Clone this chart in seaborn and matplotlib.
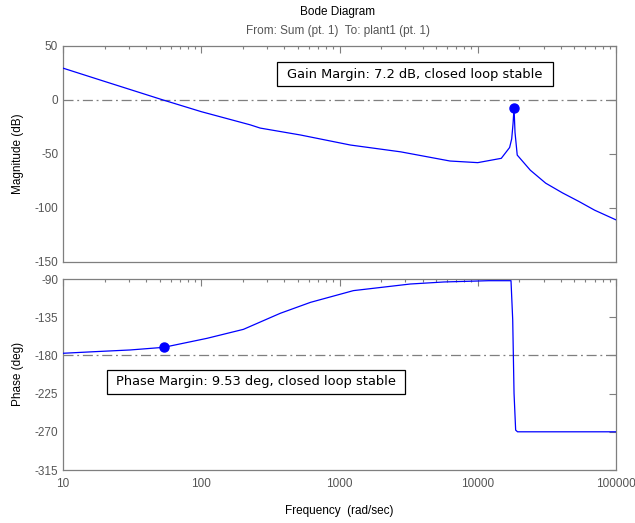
import matplotlib
matplotlib.use("Agg")
import matplotlib.pyplot as plt
import matplotlib.ticker as mticker
from matplotlib.patches import Rectangle
import seaborn as sns
import pandas as pd

# ---- data ----
mag_freq = [10, 20, 53, 100, 226, 267, 522, 1200, 2770, 6300, 10000, 14800, 17000,
            17600, 18000, 18300, 18600, 19300, 24000, 31000, 41000, 54000, 70000, 100000]
mag_db = [29.5, 17.2, 0.0, -10.8, -23.0, -26.0, -32.4, -41.7, -48.0, -56.5, -58.0, -54.0, -44.0,
          -36.0, -22.0, -7.2, -30.0, -51.0, -65.0, -77.0, -86.0, -94.0, -102.0, -111.0]

ph_freq = [10, 17, 30.6, 53.5, 110, 202, 316, 373, 617, 1260, 3250, 5700, 12000, 17400,
           17900, 18300, 18800, 19400, 30000, 100000]
ph_deg = [-177.5, -175.6, -173.6, -170.5, -159.9, -149.3, -135.5, -130.4, -117.5, -103.7,
          -95.9, -93.5, -92.0, -92.0, -138.0, -224.6, -268.0, -270.0, -270.0, -270.0]

gm_freq, gm_db = 18300, -7.2
pm_freq, pm_deg = 53.5, -170.5

mag_ticks = [-150, -100, -50, 0, 50]
ph_ticks = [-315, -270, -225, -180, -135, -90]
freq_ticks = [10, 100, 1000, 10000, 100000]
freq_labels = ["10", "100", "1000", "10000", "100000"]

title = "Bode Diagram"
subtitle = "From: Sum (pt. 1)  To: plant1 (pt. 1)"
gm_text = "Gain Margin: 7.2 dB, closed loop stable"
pm_text = "Phase Margin: 9.53 deg, closed loop stable"

# ---- style ----
sns.set_style("white")
plt.rcParams['font.family'] = ['Liberation Sans', 'DejaVu Sans']
plt.rcParams['axes.unicode_minus'] = False
FS = 8.5
GRAY = "#7f7f7f"
LBL = "#555555"
BLUE = "#0000ff"

fig = plt.figure(figsize=(6.35, 5.23), dpi=100)
fig.patch.set_facecolor("white")
ax1 = fig.add_axes([63/635, 1-262/523, 553/635, 216/523])
ax2 = fig.add_axes([63/635, 1-470/523, 553/635, 191/523])

mag_df = pd.DataFrame({"f": mag_freq, "m": mag_db})
ph_df = pd.DataFrame({"f": ph_freq, "p": ph_deg})

for ax, ref in ((ax1, 0), (ax2, -180)):
    ax.axhline(ref, color=GRAY, lw=0.9, dashes=(8, 3, 1.5, 3), zorder=1)

sns.lineplot(data=mag_df, x="f", y="m", ax=ax1, color=BLUE, lw=0.9, sort=False, zorder=3)
sns.lineplot(data=ph_df, x="f", y="p", ax=ax2, color=BLUE, lw=0.9, sort=False, zorder=3)
ax1.plot([gm_freq], [gm_db], 'o', color=BLUE, ms=6.5, zorder=4)
ax2.plot([pm_freq], [pm_deg], 'o', color=BLUE, ms=6.5, zorder=4)

for ax in (ax1, ax2):
    ax.set_xscale("log")
    ax.set_xlim(10, 100000)
    ax.set_xlabel("")
    ax.set_ylabel("")
    for s in ax.spines.values():
        s.set_color(GRAY)
        s.set_linewidth(0.9)
        s.set_visible(True)
    ax.tick_params(which="both", direction="in", top=True, right=True, colors=GRAY,
                   labelcolor=LBL, labelsize=FS)
    ax.tick_params(which="major", length=5, width=0.8)
    ax.tick_params(which="minor", length=2.5, width=0.8)
    ax.xaxis.set_major_locator(mticker.FixedLocator(freq_ticks))
    ax.xaxis.set_minor_locator(mticker.LogLocator(base=10, subs=range(2, 10)))
    ax.xaxis.set_minor_formatter(mticker.NullFormatter())
    ax.grid(False)

ax1.set_ylim(-150, 50)
ax1.set_yticks(mag_ticks)
ax1.set_xticklabels([])
ax2.set_ylim(-315, -90)
ax2.set_yticks(ph_ticks)
ax2.set_xticks(freq_ticks)
ax2.set_xticklabels(freq_labels)
ax2.tick_params(axis="x", pad=6)

# annotations
BOXFONT = ['DejaVu Sans']
ax1.add_patch(Rectangle((0.387, 0.815), 0.499, 0.111, transform=ax1.transAxes,
                        facecolor="white", edgecolor="black", lw=0.9, zorder=5))
ax1.text(0.405, 0.870, gm_text, transform=ax1.transAxes, ha="left", va="center",
         fontsize=9.4, family=BOXFONT, color="black", zorder=6)
ax2.add_patch(Rectangle((0.0796, 0.398), 0.539, 0.126, transform=ax2.transAxes,
                        facecolor="white", edgecolor="black", lw=0.9, zorder=5))
ax2.text(0.096, 0.461, pm_text, transform=ax2.transAxes, ha="left", va="center",
         fontsize=9.4, family=BOXFONT, color="black", zorder=6)

# labels and titles
fig.text(338/635, 1-12/523, title, ha="center", va="center", fontsize=FS, color="black")
fig.text(338/635, 1-31/523, subtitle, ha="center", va="center", fontsize=FS, color=LBL)
fig.text(18/635, 1-154/523, "Magnitude (dB)", ha="center", va="center", rotation=90,
         fontsize=FS, color="black")
fig.text(18/635, 1-374/523, "Phase (deg)", ha="center", va="center", rotation=90,
         fontsize=FS, color="black")
fig.text(339/635, 1-511/523, "Frequency  (rad/sec)", ha="center", va="center",
         fontsize=FS, color="black")

fig.savefig("out.png", dpi=100, facecolor="white")
